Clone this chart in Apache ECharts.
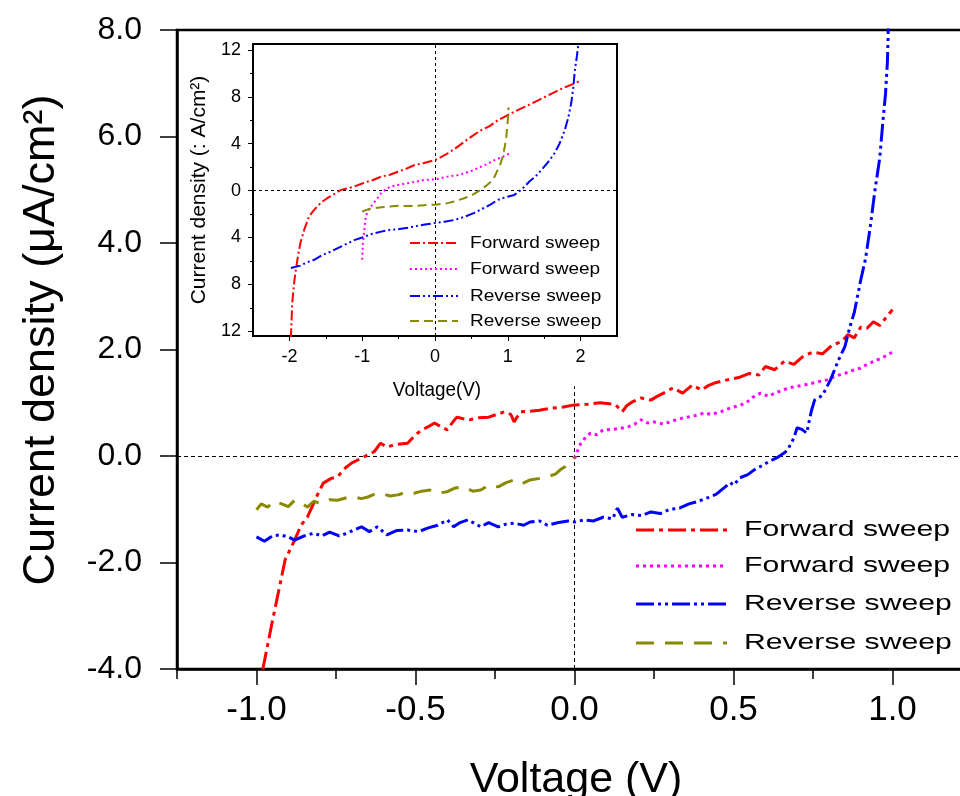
<!DOCTYPE html>
<html>
<head>
<meta charset="utf-8">
<title>Current density vs voltage</title>
<script src="https://cdn.jsdelivr.net/npm/echarts@6/dist/echarts.min.js"></script>
<style>
  html, body { margin: 0; padding: 0; background: #fff; }
  #chart { width: 960px; height: 796px; }
</style>
</head>
<body>
<div id="chart"></div>
<script>
// ---- main panel: -1 V .. 1 V sweeps, [voltage (V), current density (uA/cm2)] ----
const mainForwardA = [
  [-1.0,-4.6],[-0.98,-4.0],[-0.95,-3.1],[-0.91,-1.95],[-0.88,-1.58],[-0.86,-1.3],[-0.84,-1.15],
  [-0.81,-0.75],[-0.79,-0.51],[-0.765,-0.42],[-0.745,-0.39],[-0.72,-0.22],[-0.70,-0.13],[-0.65,0.02],
  [-0.63,0.08],[-0.61,0.24],[-0.59,0.17],[-0.56,0.22],[-0.525,0.24],[-0.50,0.40],[-0.48,0.49],
  [-0.46,0.55],[-0.44,0.62],[-0.42,0.55],[-0.40,0.49],[-0.385,0.62],[-0.37,0.73],[-0.35,0.70],
  [-0.33,0.68],[-0.30,0.72],[-0.27,0.73],[-0.245,0.78],[-0.22,0.83],[-0.20,0.78],[-0.19,0.64],
  [-0.17,0.83],[-0.14,0.84],[-0.11,0.86],[-0.07,0.90],[-0.035,0.92],[0,0.96],[0.04,0.97],[0.08,1.0],
  [0.11,0.98],[0.13,0.96],[0.15,0.83],[0.165,0.95],[0.18,1.01],[0.21,1.09],[0.24,1.05],[0.26,1.12],
  [0.28,1.18],[0.31,1.28],[0.34,1.18],[0.37,1.33],[0.40,1.24],[0.42,1.32],[0.44,1.37],[0.48,1.43],
  [0.52,1.48],[0.55,1.55],[0.58,1.52],[0.60,1.68],[0.63,1.62],[0.66,1.78],[0.69,1.72],[0.72,1.88],
  [0.75,1.95],[0.78,1.92],[0.81,2.08],[0.84,2.15],[0.86,2.28],[0.88,2.22],[0.90,2.42],[0.92,2.40],
  [0.94,2.52],[0.96,2.45],[0.98,2.6],[1.0,2.75]
];
const mainForwardB = [
  [0,-0.05],[0.01,0.1],[0.02,0.24],[0.035,0.35],[0.05,0.43],[0.07,0.40],[0.09,0.49],[0.12,0.5],
  [0.145,0.52],[0.17,0.55],[0.19,0.6],[0.21,0.68],[0.23,0.62],[0.25,0.64],[0.28,0.6],[0.30,0.64],
  [0.33,0.7],[0.355,0.73],[0.38,0.76],[0.41,0.81],[0.43,0.78],[0.46,0.83],[0.48,0.88],[0.50,0.92],
  [0.52,0.95],[0.54,1.0],[0.56,1.1],[0.585,1.18],[0.61,1.12],[0.63,1.18],[0.66,1.25],[0.69,1.30],
  [0.72,1.33],[0.75,1.37],[0.77,1.4],[0.795,1.43],[0.82,1.5],[0.85,1.55],[0.87,1.6],[0.9,1.65],
  [0.92,1.72],[0.95,1.8],[0.97,1.85],[0.99,1.92],[1.0,1.95]
];
const mainReverseA = [
  [-1.0,-1.52],[-0.975,-1.6],[-0.95,-1.5],[-0.925,-1.48],[-0.9,-1.52],[-0.88,-1.58],[-0.85,-1.5],
  [-0.82,-1.45],[-0.795,-1.5],[-0.77,-1.43],[-0.74,-1.5],[-0.715,-1.45],[-0.69,-1.38],[-0.67,-1.33],
  [-0.645,-1.42],[-0.62,-1.33],[-0.59,-1.48],[-0.56,-1.4],[-0.525,-1.39],[-0.49,-1.42],[-0.46,-1.35],
  [-0.43,-1.3],[-0.40,-1.2],[-0.38,-1.33],[-0.36,-1.25],[-0.335,-1.20],[-0.31,-1.28],[-0.295,-1.33],
  [-0.27,-1.25],[-0.24,-1.33],[-0.215,-1.28],[-0.19,-1.26],[-0.16,-1.3],[-0.14,-1.24],[-0.11,-1.22],
  [-0.085,-1.30],[-0.05,-1.25],[-0.02,-1.22],[0,-1.24],[0.03,-1.2],[0.06,-1.22],[0.09,-1.15],
  [0.12,-1.18],[0.135,-0.98],[0.15,-1.15],[0.18,-1.1],[0.21,-1.12],[0.24,-1.05],[0.27,-1.08],
  [0.30,-1.0],[0.33,-0.98],[0.36,-0.9],[0.39,-0.85],[0.42,-0.78],[0.445,-0.72],[0.47,-0.6],
  [0.49,-0.5],[0.5,-0.55],[0.52,-0.41],[0.545,-0.35],[0.565,-0.26],[0.59,-0.18],[0.61,-0.11],
  [0.64,-0.02],[0.66,0.06],[0.67,0.11],[0.69,0.34],[0.70,0.53],[0.715,0.5],[0.73,0.43],[0.745,0.85],
  [0.755,1.05],[0.78,1.14],[0.805,1.43],[0.83,1.8],[0.85,2.05],[0.865,2.4],[0.88,2.7],[0.9,3.3],
  [0.915,3.7],[0.93,4.3],[0.945,5.0],[0.96,5.6],[0.97,6.3],[0.978,6.8],[0.984,7.4],[0.988,8.3]
];
const mainReverseB = [
  [-1.0,-1.01],[-0.985,-0.9],[-0.965,-0.96],[-0.945,-0.85],[-0.925,-0.89],[-0.90,-0.95],[-0.88,-0.83],
  [-0.86,-0.88],[-0.84,-0.96],[-0.82,-0.85],[-0.80,-0.89],[-0.77,-0.82],[-0.745,-0.83],[-0.72,-0.79],
  [-0.695,-0.77],[-0.67,-0.8],[-0.65,-0.77],[-0.63,-0.72],[-0.61,-0.70],[-0.58,-0.75],[-0.555,-0.73],
  [-0.53,-0.68],[-0.505,-0.70],[-0.48,-0.66],[-0.455,-0.64],[-0.43,-0.7],[-0.40,-0.67],[-0.375,-0.6],
  [-0.35,-0.58],[-0.32,-0.66],[-0.295,-0.64],[-0.27,-0.55],[-0.24,-0.58],[-0.215,-0.5],[-0.19,-0.45],
  [-0.165,-0.52],[-0.14,-0.45],[-0.11,-0.42],[-0.085,-0.39],[-0.06,-0.34],[-0.045,-0.26],[-0.03,-0.2],
  [-0.02,-0.13],[-0.01,-0.1],[0,-0.02]
];

// ---- inset panel: -2 V .. 2 V sweeps ----
const insetForwardA = [
  [-1.98,-12.6],[-1.96,-9.5],[-1.93,-7.6],[-1.91,-6.7],[-1.88,-5.5],[-1.85,-4.5],[-1.8,-3.4],
  [-1.73,-2.2],[-1.68,-1.8],[-1.62,-1.36],[-1.55,-0.95],[-1.48,-0.65],[-1.4,-0.35],[-1.29,0.06],
  [-1.2,0.2],[-1.11,0.34],[-1.0,0.6],[-0.93,0.76],[-0.85,0.9],[-0.74,1.19],[-0.62,1.35],[-0.51,1.61],
  [-0.4,1.85],[-0.28,2.18],[-0.15,2.35],[0,2.6],[0.08,2.85],[0.17,3.16],[0.28,3.6],[0.40,4.15],
  [0.5,4.6],[0.63,5.14],[0.75,5.5],[0.86,5.99],[1.02,6.5],[1.15,6.9],[1.32,7.4],[1.45,7.8],
  [1.55,8.1],[1.68,8.5],[1.78,8.8],[1.9,9.1],[2.01,9.4]
];
const insetForwardB = [
  [-1.0,-5.9],[-0.99,-4.5],[-0.97,-3.3],[-0.95,-2.2],[-0.92,-1.7],[-0.88,-1.36],[-0.81,-0.8],
  [-0.74,-0.23],[-0.68,0.1],[-0.61,0.34],[-0.5,0.5],[-0.38,0.62],[-0.25,0.78],[-0.15,0.9],[0,0.96],
  [0.08,1.05],[0.17,1.19],[0.3,1.3],[0.40,1.47],[0.52,1.72],[0.63,2.03],[0.73,2.3],[0.82,2.6],
  [0.92,2.85],[1.02,3.16]
];
const insetReverseA = [
  [-1.98,-6.6],[-1.85,-6.4],[-1.75,-6.1],[-1.66,-5.9],[-1.55,-5.5],[-1.43,-5.2],[-1.3,-4.8],
  [-1.2,-4.5],[-1.1,-4.2],[-1.0,-4.0],[-0.87,-3.7],[-0.74,-3.5],[-0.62,-3.35],[-0.51,-3.3],
  [-0.4,-3.2],[-0.28,-3.05],[-0.14,-2.9],[0,-2.77],[0.13,-2.65],[0.27,-2.5],[0.4,-2.25],[0.54,-1.9],
  [0.65,-1.55],[0.76,-1.2],[0.86,-0.8],[0.98,-0.55],[1.09,-0.37],[1.16,-0.05],[1.23,0.34],[1.3,0.8],
  [1.38,1.2],[1.46,1.75],[1.55,2.4],[1.64,3.16],[1.71,4.0],[1.78,5.1],[1.83,6.2],[1.87,7.4],
  [1.9,8.8],[1.92,10.2],[1.95,11.5],[1.97,12.5],[1.98,13]
];
const insetReverseB = [
  [-1.0,-1.78],[-0.92,-1.6],[-0.84,-1.5],[-0.7,-1.4],[-0.51,-1.3],[-0.4,-1.32],[-0.28,-1.3],
  [-0.15,-1.25],[0,-1.2],[0.08,-1.15],[0.17,-1.07],[0.28,-0.9],[0.40,-0.65],[0.52,-0.35],[0.63,0.06],
  [0.7,0.4],[0.77,0.76],[0.82,1.2],[0.86,1.75],[0.9,2.3],[0.93,2.9],[0.96,3.8],[0.98,4.6],[0.99,5.3],
  [1.0,6.0],[1.01,7.1]
];

// ---- tick positions and labels ----
const mainXLabels = [-1.0, -0.5, 0.0, 0.5, 1.0];
const mainXMinor = [-1.25, -0.75, -0.25, 0.25, 0.75, 1.25];
const insetXLabels = [-2, -1, 0, 1, 2];
const insetXMinor = [-1.5, -0.5, 0.5, 1.5];
const insetYLabels = [-12, -8, -4, 0, 4, 8, 12];
const insetYMinor = [-10, -6, -2, 2, 6, 10];
const seriesNames = ['Forward sweep', 'Forward sweep', 'Reverse sweep', 'Reverse sweep'];

const FONT = "'Liberation Sans', Arial, sans-serif";
const colors = ['#ff0000', '#ff00ff', '#0000ff', '#8a8a00'];
const dashMain = [[18, 5, 4, 5], [3, 4], [18, 4, 3, 4, 3, 4], [18, 11]];
const dashInset = [[10, 3, 2, 3], [2, 3], [10, 3, 2, 3, 2, 3], [9, 5]];

const chart = echarts.init(document.getElementById('chart'), null, { renderer: 'canvas' });

function lineSeries(name, data, idx, grid, width, dash, extra) {
  return Object.assign({
    name: name,
    type: 'line',
    xAxisIndex: grid === 0 ? 0 : 2,
    yAxisIndex: grid === 0 ? 0 : 1,
    data: data,
    symbol: 'none',
    showSymbol: false,
    clip: true,
    silent: true,
    z: 5,
    lineStyle: { color: colors[idx], width: width, type: dash },
    emphasis: { disabled: true }
  }, extra || {});
}

const refLine = { color: '#000', width: 1, type: [4, 3] };

const series = [
  lineSeries(seriesNames[0], mainForwardA, 0, 0, 3, dashMain[0], {
    markLine: {
      silent: true, symbol: 'none', animation: false, label: { show: false },
      lineStyle: refLine,
      data: [
        { yAxis: 0 },
        [{ coord: [0, -4] }, { coord: [0, 1.31] }]
      ]
    }
  }),
  lineSeries(seriesNames[1], mainForwardB, 1, 0, 3, dashMain[1]),
  lineSeries(seriesNames[2], mainReverseA, 2, 0, 3, dashMain[2]),
  lineSeries(seriesNames[3], mainReverseB, 3, 0, 3, dashMain[3]),
  lineSeries(seriesNames[0], insetForwardA, 0, 1, 2, dashInset[0], {
    markLine: {
      silent: true, symbol: 'none', animation: false, label: { show: false },
      lineStyle: { color: '#000', width: 1, type: [3, 3] },
      data: [{ yAxis: 0 }, { xAxis: 0 }]
    }
  }),
  lineSeries(seriesNames[1], insetForwardB, 1, 1, 2, dashInset[1]),
  lineSeries(seriesNames[2], insetReverseA, 2, 1, 2, dashInset[2]),
  lineSeries(seriesNames[3], insetReverseB, 3, 1, 2, dashInset[3])
];

// legend rows drawn as sample strokes plus labels
const graphics = [];
function legendBlock(x1, x2, tx, rows, lw, dashes, fontSize, sx) {
  rows.forEach(function (y, i) {
    graphics.push({
      type: 'line', silent: true, z: 20,
      shape: { x1: x1, y1: y, x2: x2, y2: y },
      style: { stroke: colors[i], lineWidth: lw, lineDash: dashes[i] }
    });
    graphics.push({
      type: 'text', silent: true, z: 20, x: tx, y: y, scaleX: sx,
      style: {
        text: seriesNames[i], fill: '#000', fontSize: fontSize, fontFamily: FONT,
        align: 'left', verticalAlign: 'middle'
      }
    });
  });
}
legendBlock(636, 727, 744, [530, 566, 604, 643], 3, dashMain, 22, 1.37);
legendBlock(410, 458, 470, [243, 269, 296, 321], 2, dashInset, 17, 1.12);

// axis titles
graphics.push(
  { type: 'text', silent: true, x: 42, y: 340, rotation: Math.PI / 2,
    style: { text: 'Current density (μA/cm²)', fill: '#000', fontSize: 45, fontFamily: FONT,
             align: 'center', verticalAlign: 'middle' } },
  { type: 'text', silent: true, x: 576, y: 780,
    style: { text: 'Voltage (V)', fill: '#000', fontSize: 43, fontFamily: FONT,
             align: 'center', verticalAlign: 'middle' } },
  { type: 'text', silent: true, x: 437, y: 390, scaleX: 0.9,
    style: { text: 'Voltage(V)', fill: '#000', fontSize: 21, fontFamily: FONT,
             align: 'center', verticalAlign: 'middle' } },
  { type: 'text', silent: true, x: 199, y: 190, rotation: Math.PI / 2,
    style: { text: 'Current density (: A/cm²)', fill: '#000', fontSize: 21, fontFamily: FONT,
             align: 'center', verticalAlign: 'middle' } }
);

const option = {
  animation: false,
  backgroundColor: '#fff',
  grid: [
    // the right edge of the main frame runs just past the canvas
    { left: 177, top: 30, width: 795, height: 639, show: true, borderColor: '#000', borderWidth: 2.5,
      backgroundColor: 'transparent', containLabel: false, outerBoundsMode: 'none' },
    { left: 253, top: 44, width: 364, height: 292, show: true, borderColor: '#000', borderWidth: 2,
      backgroundColor: '#fff', containLabel: false, outerBoundsMode: 'none', z: 3 }
  ],
  xAxis: [
    { type: 'value', gridIndex: 0, min: -1.25, max: 1.25, position: 'bottom',
      axisLine: { onZero: false, lineStyle: { color: '#000', width: 2.5 } },
      axisTick: { customValues: mainXLabels, length: 16, inside: false, lineStyle: { color: '#000', width: 1.5 } },
      axisLabel: { customValues: mainXLabels, margin: 24, fontSize: 35, fontFamily: FONT, color: '#000',
                   formatter: function (v) { return v.toFixed(1); } },
      splitLine: { show: false } },
    { type: 'value', gridIndex: 0, min: -1.25, max: 1.25, position: 'bottom',
      axisLine: { show: false, onZero: false },
      axisTick: { customValues: mainXMinor, length: 10, inside: false, lineStyle: { color: '#000', width: 1.5 } },
      axisLabel: { show: false }, splitLine: { show: false } },
    { type: 'value', gridIndex: 1, min: -2.5, max: 2.5, position: 'bottom',
      axisLine: { onZero: false, lineStyle: { color: '#000', width: 2 } },
      axisTick: { customValues: insetXLabels, length: 5, lineStyle: { color: '#000', width: 1 } },
      axisLabel: { customValues: insetXLabels, margin: 12, fontSize: 18, fontFamily: FONT, color: '#000' },
      splitLine: { show: false } },
    { type: 'value', gridIndex: 1, min: -2.5, max: 2.5, position: 'bottom',
      axisLine: { show: false, onZero: false },
      axisTick: { customValues: insetXMinor, length: 3, lineStyle: { color: '#000', width: 1 } },
      axisLabel: { show: false }, splitLine: { show: false } }
  ],
  yAxis: [
    { type: 'value', gridIndex: 0, min: -4, max: 8, interval: 2, position: 'left',
      axisLine: { onZero: false, lineStyle: { color: '#000', width: 2.5 } },
      axisTick: { length: 17, inside: false, lineStyle: { color: '#000', width: 1.5 } },
      axisLabel: { margin: 35, fontSize: 32, fontFamily: FONT, color: '#000',
                   formatter: function (v) { return v.toFixed(1); } },
      splitLine: { show: false } },
    { type: 'value', gridIndex: 1, min: -12.4, max: 12.5, position: 'left',
      axisLine: { onZero: false, lineStyle: { color: '#000', width: 2 } },
      axisTick: { customValues: insetYLabels, length: 5, lineStyle: { color: '#000', width: 1 } },
      axisLabel: { customValues: insetYLabels, margin: 12, fontSize: 18, fontFamily: FONT, color: '#000',
                   formatter: function (v) { return String(Math.abs(v)); } },
      splitLine: { show: false } },
    { type: 'value', gridIndex: 1, min: -12.4, max: 12.5, position: 'left',
      axisLine: { show: false, onZero: false },
      axisTick: { customValues: insetYMinor, length: 3, lineStyle: { color: '#000', width: 1 } },
      axisLabel: { show: false }, splitLine: { show: false } }
  ],
  series: series,
  graphic: graphics
};

chart.setOption(option);
</script>
</body>
</html>
